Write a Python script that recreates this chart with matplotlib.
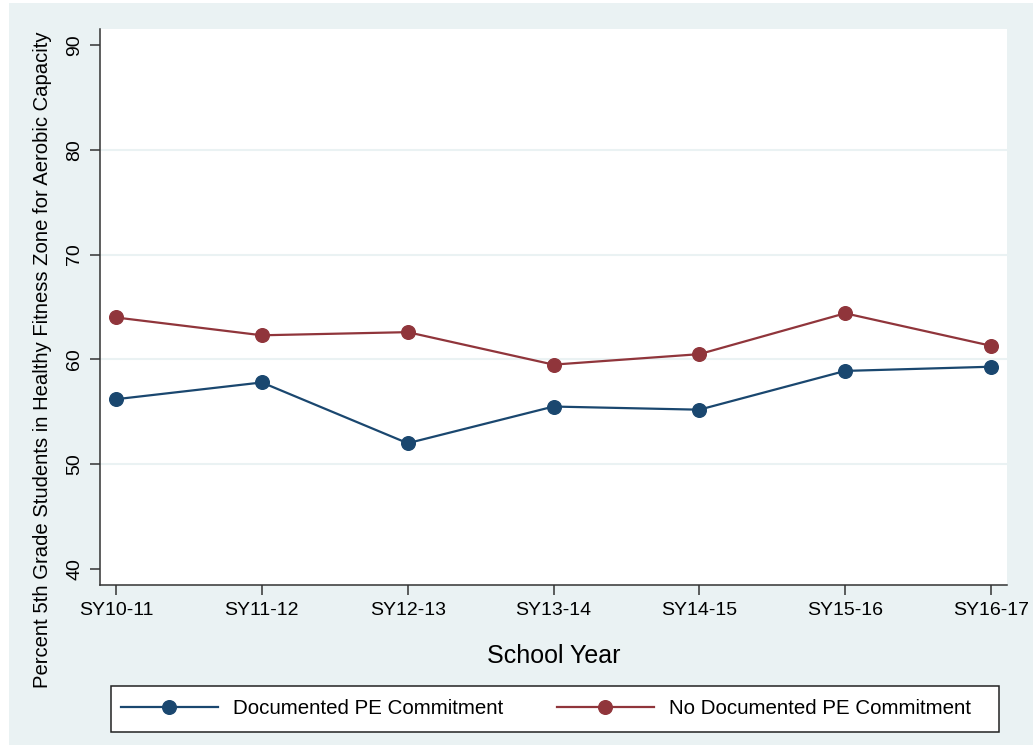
import matplotlib
matplotlib.use("Agg")
import matplotlib.pyplot as plt
from matplotlib.patches import Rectangle

plt.rcParams['font.family'] = ['Liberation Sans', 'DejaVu Sans']

# data
years = ["SY10-11", "SY11-12", "SY12-13", "SY13-14", "SY14-15", "SY15-16", "SY16-17"]
documented = [56.2, 57.8, 52.0, 55.5, 55.2, 58.9, 59.3]
not_documented = [64.0, 62.3, 62.6, 59.5, 60.5, 64.4, 61.3]
y_ticks = [40, 50, 60, 70, 80, 90]

BG = "#eaf2f3"
BLUE = "#1a476f"
RED = "#90353b"

W, H = 1036, 745
fig = plt.figure(figsize=(W / 100, H / 100), dpi=100, facecolor="white")

# stata style outer background
fig.patches.append(Rectangle((9 / W, 0), (1033 - 9) / W, 742 / H,
                             transform=fig.transFigure, facecolor=BG,
                             edgecolor="none", zorder=-10))

ax = fig.add_axes([100 / W, (H - 585) / H, (1007 - 100) / W, (585 - 29) / H])
ax.set_zorder(2)
ax.set_facecolor("white")

x = list(range(len(years)))
ax.plot(x, documented, color=BLUE, lw=1.6, marker="o", ms=9.8,
        label="Documented PE Commitment", zorder=3)
ax.plot(x, not_documented, color=RED, lw=1.6, marker="o", ms=9.8,
        label="No Documented PE Commitment", zorder=3)

ax.set_xlim(-0.11, len(years) - 1 + 0.11)
ax.set_ylim(38.47, 91.53)

ax.set_xticks(x)
ax.set_xticklabels(years, fontsize=14)
ax.set_yticks(y_ticks)
ax.set_yticklabels([str(t) for t in y_ticks], fontsize=14, rotation=90, va="center")

# gridlines (not at the extremes)
for t in y_ticks[1:-1]:
    ax.axhline(t, color=BG, lw=1.5, zorder=1)

for s in ["top", "right"]:
    ax.spines[s].set_visible(False)
for s in ["left", "bottom"]:
    ax.spines[s].set_color("#333333")
    ax.spines[s].set_linewidth(1.1)

ax.tick_params(axis="both", direction="out", length=7, width=1.1,
               color="#333333", labelcolor="black", pad=5)

ax.set_xlabel("School Year", fontsize=18, labelpad=18)

fig.text(43 / W, 1 - 360 / H,
         "Percent 5th Grade Students in Healthy Fitness Zone for Aerobic Capacity",
         rotation=90, ha="center", va="center", fontsize=14.6)

# legend box drawn separately, legend entries placed inside
fig.patches.append(Rectangle((111 / W, (H - 732) / H), (999 - 111) / W, 46 / H,
                             transform=fig.transFigure, facecolor="white",
                             edgecolor="#222222", lw=1.1, zorder=-5))
leg = fig.legend(loc="center left", bbox_to_anchor=(121 / W, (H - 709) / H),
                 ncol=2, fontsize=14.8, frameon=False,
                 handlelength=4.7, handletextpad=0.75,
                 borderaxespad=0, borderpad=0, columnspacing=2.62)

fig.savefig("out.png", dpi=100, facecolor="white")
